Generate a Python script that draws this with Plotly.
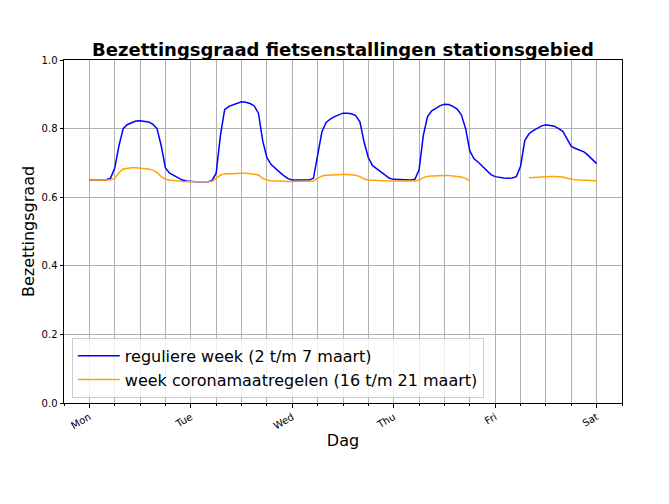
import pandas as pd
import plotly.graph_objects as go

# hourly timestamps, Monday 00:00 up to and including Saturday 00:00
hours = pd.date_range("2020-03-02 00:00", "2020-03-07 00:00", freq="h")

# occupancy, regular week (2 to 7 March), one value per hour
regular_week = [
    # Mon
    0.650, 0.650, 0.650, 0.650, 0.651, 0.655, 0.685, 0.750, 0.800, 0.812, 0.818, 0.822,
    0.823, 0.822, 0.819, 0.813, 0.800, 0.750, 0.685, 0.670, 0.664, 0.657, 0.650, 0.647,
    # Tue
    0.645, 0.645, 0.645, 0.645, 0.645, 0.648, 0.670, 0.780, 0.855, 0.865, 0.870, 0.875,
    0.878, 0.877, 0.873, 0.866, 0.845, 0.765, 0.715, 0.695, 0.683, 0.673, 0.663, 0.654,
    # Wed
    0.650, 0.650, 0.650, 0.650, 0.650, 0.655, 0.720, 0.790, 0.818, 0.828, 0.835, 0.841,
    0.845, 0.845, 0.843, 0.838, 0.820, 0.760, 0.715, 0.692, 0.683, 0.674, 0.663, 0.655,
    # Thu
    0.652, 0.651, 0.650, 0.650, 0.650, 0.652, 0.680, 0.780, 0.835, 0.852, 0.860, 0.867,
    0.871, 0.870, 0.865, 0.857, 0.840, 0.800, 0.735, 0.712, 0.702, 0.690, 0.678, 0.666,
    # Fri
    0.660, 0.657, 0.656, 0.655, 0.656, 0.660, 0.690, 0.765, 0.785, 0.794, 0.802, 0.808,
    0.811, 0.810, 0.807, 0.800, 0.792, 0.770, 0.748, 0.742, 0.738, 0.732, 0.722, 0.710,
    # Sat 00:00
    0.698,
]

# occupancy, week with corona measures (16 to 21 March); None = no data
corona_week = [
    # Mon
    0.650, 0.650, 0.650, 0.650, 0.650, 0.650, 0.655, 0.672, 0.682, 0.685, 0.686, 0.686,
    0.685, 0.684, 0.682, 0.679, 0.672, 0.660, 0.652, 0.650, 0.648, 0.647, 0.646, 0.645,
    # Tue
    0.645, 0.645, 0.645, 0.645, 0.645, 0.646, 0.655, 0.665, 0.668, 0.669, 0.670, 0.670,
    0.670, 0.670, 0.669, 0.668, 0.665, 0.655, 0.650, 0.648, 0.647, 0.646, 0.646, 0.646,
    # Wed
    0.646, 0.646, 0.646, 0.646, 0.646, 0.647, 0.655, 0.662, 0.664, 0.665, 0.665, 0.666,
    0.666, 0.666, 0.665, 0.664, 0.660, 0.653, 0.650, 0.649, 0.648, 0.647, 0.647, 0.647,
    # Thu
    0.647, 0.647, 0.647, 0.647, 0.647, 0.647, 0.650, 0.657, 0.661, 0.662, 0.662, 0.663,
    0.663, 0.663, 0.662, 0.661, 0.659, 0.655, 0.648, None, None, None, None, None,
    # Fri
    None, None, None, None, None, None, None, None, 0.657, 0.658, 0.659, 0.660,
    0.660, 0.660, 0.660, 0.660, 0.659, 0.655, 0.652, 0.651, 0.650, 0.650, 0.649, 0.649,
    # Sat 00:00
    0.648,
]

font = "DejaVu Sans"
grid = "#b0b0b0"

fig = go.Figure()
fig.add_trace(go.Scatter(
    x=hours, y=regular_week, mode="lines",
    name="reguliere week (2 t/m 7 maart)",
    line=dict(color="#0000ff", width=1.5),
))
fig.add_trace(go.Scatter(
    x=hours, y=corona_week, mode="lines",
    name="week coronamaatregelen (16 t/m 21 maart)",
    line=dict(color="#ffa500", width=1.5),
    connectgaps=False,
))

# page has an 8px body margin, so the figure is a little smaller than the window
fig.update_layout(
    width=661,
    height=496,
    margin=dict(l=56, r=47, t=52, b=101),
    paper_bgcolor="white",
    plot_bgcolor="white",
    font=dict(family=font, color="black", size=10),
    title=dict(
        text="<b>Bezettingsgraad fietsenstallingen stationsgebied</b>",
        x=0.5, xref="paper", xanchor="center",
        y=1, yref="paper", yanchor="bottom", pad=dict(b=4),
        font=dict(size=18, family=font),
    ),
    legend=dict(
        x=0.014, y=0.015, xanchor="left", yanchor="bottom",
        bgcolor="rgba(255,255,255,0.8)", bordercolor="#cccccc", borderwidth=1,
        font=dict(size=16, family=font), itemwidth=42,
    ),
    xaxis=dict(
        type="date",
        range=["2020-03-01 18:00", "2020-03-07 06:00"],
        tick0="2020-03-02", dtick=86400000, tickformat="%a",
        tickangle=-30, ticks="outside", ticklen=3.5, tickcolor="black",
        showgrid=True, gridcolor=grid, gridwidth=1,
        minor=dict(dtick=21600000, showgrid=True, gridcolor=grid,
                   ticks="outside", ticklen=2, tickcolor="black"),
        showline=True, linecolor="black", linewidth=1, mirror=True,
        zeroline=False,
        title=dict(text="Dag", font=dict(size=16, family=font), standoff=4),
    ),
    yaxis=dict(
        range=[0, 1], dtick=0.2, tickformat=".1f",
        ticks="outside", ticklen=3.5, tickcolor="black",
        showgrid=True, gridcolor=grid, gridwidth=1,
        showline=True, linecolor="black", linewidth=1, mirror=True,
        zeroline=False,
        title=dict(text="Bezettingsgraad", font=dict(size=16, family=font), standoff=2),
    ),
)

fig.write_html("out.html")
